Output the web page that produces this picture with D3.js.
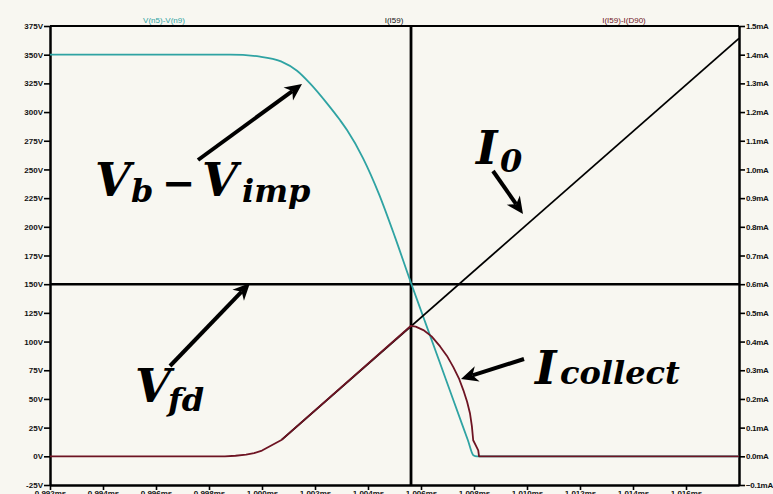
<!DOCTYPE html>
<html>
<head>
<meta charset="utf-8">
<script src="https://cdn.jsdelivr.net/npm/d3@7"></script>
<style>
  html, body { margin: 0; padding: 0; background: #f8f7f1; overflow: hidden; }
  svg { display: block; }
  .tick text { font-family: "Liberation Sans", Arial, sans-serif; font-size: 8px; font-weight: bold; fill: #111; }
  .right .tick text { letter-spacing: -0.3px; }
  .math { font-family: "DejaVu Serif", serif; font-weight: bold; font-style: italic; fill: #000; }
</style>
</head>
<body>
<svg id="chart" width="773" height="494"></svg>
<script>
// Time axis (ms)
const timeDomain = [0.992, 1.018];
const timeTicks = [0.992, 0.994, 0.996, 0.998, 1.000, 1.002, 1.004, 1.006, 1.008, 1.010, 1.012, 1.014, 1.016];

// Left axis (V) and right axis (mA)
const voltDomain = [-25, 375];
const voltTicks = [-25, 0, 25, 50, 75, 100, 125, 150, 175, 200, 225, 250, 275, 300, 325, 350, 375];
const currentDomain = [-0.1, 1.5];
const currentTicks = [-0.1, 0.0, 0.1, 0.2, 0.3, 0.4, 0.5, 0.6, 0.7, 0.8, 0.9, 1.0, 1.1, 1.2, 1.3, 1.4, 1.5];

// V(n5)-V(n9): Vb - Vimp
const vbTime  = [0.992, 0.99879, 0.999925, 1.000717, 1.001321, 1.001811, 1.002453, 1.002943, 1.003208, 1.003811, 1.004415, 1.005019, 1.005623, 1.006132, 1.006679, 1.007223, 1.00777, 1.007974, 1.008113, 1.018];
const vbVolts = [350, 350, 348.3, 344.2, 336, 325, 307.6, 293, 284.3, 259.9, 228.5, 191, 151, 118.6, 83.7, 48.8, 14, 1, 0, 0];

// I(I59): I0 ramp
const i0Time = [1.00075, 1.018];
const i0mA   = [0.058, 1.457];

// I(I59)-I(D90): collected current
const icTime = [0.992, 0.9986, 0.9990, 0.9994, 0.9997, 1.0000, 1.00075, 1.005623, 1.0058, 1.00609, 1.0064, 1.00672, 1.00698, 1.00722, 1.00743, 1.0076, 1.00774, 1.00785, 1.00792, 1.00797, 1.0081, 1.00816, 1.00819, 1.018];
const icmA   = [0, 0, 0.002, 0.006, 0.011, 0.020, 0.058, 0.455, 0.452, 0.440, 0.418, 0.383, 0.350, 0.311, 0.272, 0.230, 0.190, 0.149, 0.105, 0.056, 0.032, 0.021, 0, 0];

// Cursor position
const cursorTime = 1.005623;
const cursorVolts = 150;

const seriesLabels = [
  { text: "V(n5)-V(n9)", color: "#2fa3a3", x: 164 },
  { text: "I(I59)", color: "#111111", x: 394 },
  { text: "I(I59)-I(D90)", color: "#6e1423", x: 624 }
];

const svg = d3.select("#chart");
const plotLeft = 50, plotRight = 739, plotTop = 26, plotBottom = 485;

const x = d3.scaleLinear().domain(timeDomain).range([plotLeft, plotRight]);
const yV = d3.scaleLinear().domain(voltDomain).range([plotBottom, plotTop]);
const yI = d3.scaleLinear().domain(currentDomain).range([plotBottom, plotTop]);

svg.append("rect").attr("width", 773).attr("height", 494).attr("fill", "#f8f7f1");

// top border
svg.append("line").attr("x1", plotLeft).attr("x2", plotRight).attr("y1", plotTop).attr("y2", plotTop)
  .attr("stroke", "#000").attr("stroke-width", 2);

// axes
const axL = svg.append("g").attr("transform", `translate(${plotLeft},0)`)
  .call(d3.axisLeft(yV).tickValues(voltTicks).tickSize(6).tickSizeOuter(0).tickPadding(1)
    .tickFormat(d => d + "V"));
const axR = svg.append("g").attr("class", "right").attr("transform", `translate(${plotRight},0)`)
  .call(d3.axisRight(yI).tickValues(currentTicks).tickSize(6).tickSizeOuter(0).tickPadding(1)
    .tickFormat(d => d3.format(".1f")(d) + "mA"));
const axB = svg.append("g").attr("transform", `translate(0,${plotBottom})`)
  .call(d3.axisBottom(x).tickValues(timeTicks).tickSize(5).tickSizeOuter(0).tickPadding(0)
    .tickFormat(d => d3.format(".3f")(d) + "ms"));

[axL, axR, axB].forEach(g => {
  g.select(".domain").attr("stroke", "#000").attr("stroke-width", 2.5);
  g.selectAll(".tick line").attr("stroke", "#000").attr("stroke-width", 1.6);
});

// series labels above the plot
svg.selectAll("text.series").data(seriesLabels).enter().append("text")
  .attr("class", "series")
  .attr("x", d => d.x).attr("y", 23)
  .attr("text-anchor", "middle")
  .attr("font-family", "Liberation Sans, Arial, sans-serif")
  .attr("font-size", 8)
  .attr("fill", d => d.color)
  .text(d => d.text);

// cursors
svg.append("line").attr("x1", plotLeft).attr("x2", plotRight)
  .attr("y1", yV(cursorVolts)).attr("y2", yV(cursorVolts))
  .attr("stroke", "#000").attr("stroke-width", 2.5);
svg.append("line").attr("x1", x(cursorTime)).attr("x2", x(cursorTime))
  .attr("y1", plotTop).attr("y2", plotBottom)
  .attr("stroke", "#000").attr("stroke-width", 2.8);

const plot = svg.append("g");

const vbLine = d3.line().x((d, i) => x(vbTime[i])).y(d => yV(d)).curve(d3.curveMonotoneX);
plot.append("path").attr("d", vbLine(vbVolts))
  .attr("fill", "none").attr("stroke", "#2fa3a3").attr("stroke-width", 1.8);

const i0Line = d3.line().x((d, i) => x(i0Time[i])).y(d => yI(d));
plot.append("path").attr("d", i0Line(i0mA))
  .attr("fill", "none").attr("stroke", "#000").attr("stroke-width", 1.8);

const icLine = d3.line().x((d, i) => x(icTime[i])).y(d => yI(d)).curve(d3.curveLinear);
plot.append("path").attr("d", icLine(icmA))
  .attr("fill", "none").attr("stroke", "#6e1423").attr("stroke-width", 1.8)
  .attr("stroke-linejoin", "round");

// annotation arrows
function arrow(x1, y1, x2, y2) {
  const ang = Math.atan2(y2 - y1, x2 - x1);
  const len = 17, half = 8, notch = 5;
  const bx = x2 - len * Math.cos(ang), by = y2 - len * Math.sin(ang);
  const nx = -Math.sin(ang), ny = Math.cos(ang);
  const cx = x2 - (len - notch) * Math.cos(ang), cy = y2 - (len - notch) * Math.sin(ang);
  svg.append("line").attr("x1", x1).attr("y1", y1).attr("x2", cx).attr("y2", cy)
    .attr("stroke", "#000").attr("stroke-width", 4).attr("stroke-linecap", "butt");
  svg.append("path")
    .attr("d", `M${x2},${y2} L${bx + nx * half},${by + ny * half} L${cx},${cy} L${bx - nx * half},${by - ny * half} Z`)
    .attr("fill", "#000");
}
arrow(198, 160, 302, 84);
arrow(493, 171, 523, 214);
arrow(170, 366, 250, 283);
arrow(524, 359, 461, 379);

// math labels
function mathLabel(parts) {
  const t = svg.append("text").attr("class", "math");
  parts.forEach(p => {
    t.append("tspan").attr("x", p.x).attr("y", p.y).attr("font-size", p.size).text(p.text);
  });
}
mathLabel([
  { text: "V", x: 95, y: 196, size: 46 },
  { text: "b", x: 131, y: 202, size: 32 },
  { text: "\u2212", x: 162, y: 197, size: 40 },
  { text: "V", x: 202, y: 196, size: 46 },
  { text: "imp", x: 242, y: 202, size: 32 }
]);
mathLabel([
  { text: "I", x: 476, y: 164, size: 46 },
  { text: "0", x: 500, y: 172, size: 32 }
]);
mathLabel([
  { text: "V", x: 135, y: 402, size: 46 },
  { text: "fd", x: 168, y: 411, size: 32 }
]);
mathLabel([
  { text: "I", x: 535, y: 384, size: 46 },
  { text: "collect", x: 560, y: 384, size: 32 }
]);
</script>
</body>
</html>
